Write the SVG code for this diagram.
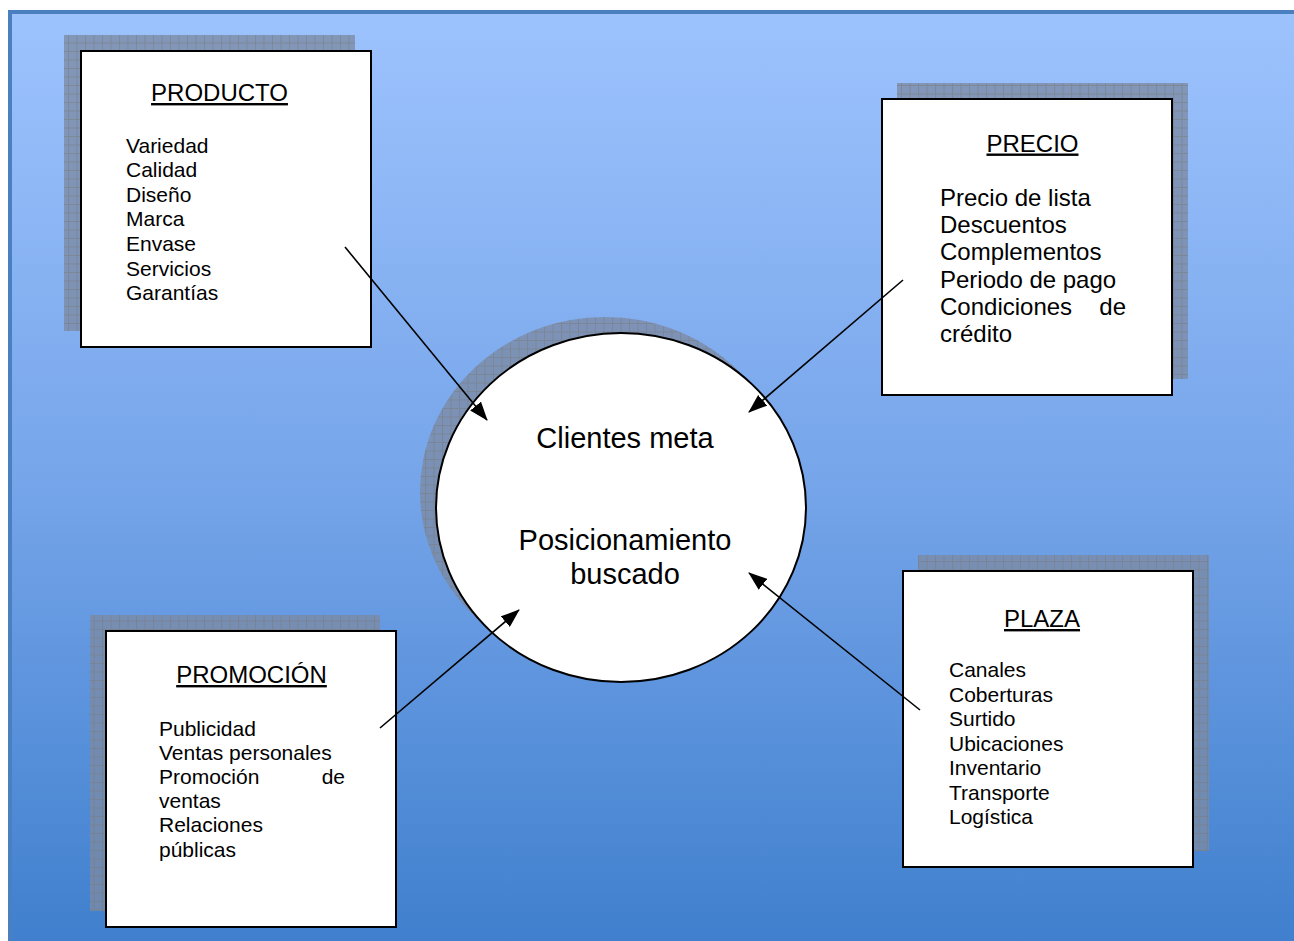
<svg xmlns="http://www.w3.org/2000/svg" width="1294" height="941" viewBox="0 0 1294 941">
<defs>
<linearGradient id="bg" x1="0" y1="0" x2="0" y2="1">
<stop offset="0" stop-color="#9dc3fd"/>
<stop offset="0.5" stop-color="#76a5ea"/>
<stop offset="1" stop-color="#3f7fcd"/>
</linearGradient>
<pattern id="grid" width="8.5" height="8.5" patternUnits="userSpaceOnUse">
<rect width="8.5" height="8.5" fill="#7b8aa6" fill-opacity="0.78"/>
<path d="M0 0.5H8.5M0.5 0V8.5" stroke="#7a7a7a" stroke-width="1" stroke-opacity="0.5"/>
</pattern>
<marker id="ah" viewBox="0 0 19 14" refX="18" refY="7" markerWidth="19" markerHeight="14" markerUnits="userSpaceOnUse" orient="auto">
<path d="M0 0L19 7L0 14Z" fill="#000"/>
</marker>
<style>
.box{fill:#fff;stroke:#000;stroke-width:2}
.sh{fill:url(#grid)}
.t{font-family:"Liberation Sans",Arial,sans-serif;fill:#000}
.title{font-size:24px;text-decoration:underline;text-anchor:middle}
.it{font-size:21px}
.it24{font-size:24px}
.c{font-size:29px;text-anchor:middle}
.con{stroke:#000;stroke-width:1.6;fill:none;marker-end:url(#ah)}
</style>
</defs>
<rect x="0" y="0" width="1294" height="941" fill="#fff"/>
<rect x="10" y="12" width="1290" height="935" fill="url(#bg)" stroke="#4a7fc0" stroke-width="4"/>

<g id="producto">
<rect class="sh" x="64" y="35" width="291" height="296"/>
<rect class="box" x="81" y="51" width="290" height="296"/>
<text class="t title" x="219.5" y="101">PRODUCTO</text>
<text class="t it" x="126" y="152.5">Variedad</text>
<text class="t it" x="126" y="177.1">Calidad</text>
<text class="t it" x="126" y="201.7">Diseño</text>
<text class="t it" x="126" y="226.3">Marca</text>
<text class="t it" x="126" y="250.9">Envase</text>
<text class="t it" x="126" y="275.5">Servicios</text>
<text class="t it" x="126" y="300.1">Garantías</text>
</g>

<g id="precio">
<rect class="sh" x="897" y="83" width="291" height="296"/>
<rect class="box" x="882" y="99" width="290" height="296"/>
<text class="t title" x="1032.5" y="151.5">PRECIO</text>
<text class="t it24" x="940" y="206">Precio de lista</text>
<text class="t it24" x="940" y="233.2">Descuentos</text>
<text class="t it24" x="940" y="260.4">Complementos</text>
<text class="t it24" x="940" y="287.6">Periodo de pago</text>
<text class="t it24" x="940" y="314.8">Condiciones</text>
<text class="t it24" x="1126" y="314.8" text-anchor="end">de</text>
<text class="t it24" x="940" y="342">crédito</text>
</g>

<g id="centro">
<ellipse class="sh" cx="605" cy="492" rx="185" ry="175"/>
<ellipse cx="621" cy="507.5" rx="185" ry="174.5" fill="#fff" stroke="#000" stroke-width="2"/>
<text class="t c" x="625" y="448">Clientes meta</text>
<text class="t c" x="625" y="549.5">Posicionamiento</text>
<text class="t c" x="625" y="583.5">buscado</text>
</g>

<g id="promocion">
<rect class="sh" x="90" y="615" width="290" height="296"/>
<rect class="box" x="106" y="631" width="290" height="296"/>
<text class="t title" x="251.5" y="683">PROMOCIÓN</text>
<text class="t it" x="159" y="736">Publicidad</text>
<text class="t it" x="159" y="760.1">Ventas personales</text>
<text class="t it" x="159" y="784.2">Promoción</text>
<text class="t it" x="345" y="784.2" text-anchor="end">de</text>
<text class="t it" x="159" y="808.3">ventas</text>
<text class="t it" x="159" y="832.4">Relaciones</text>
<text class="t it" x="159" y="856.5">públicas</text>
</g>

<g id="plaza">
<rect class="sh" x="918" y="555" width="291" height="296"/>
<rect class="box" x="903" y="571" width="290" height="296"/>
<text class="t title" x="1042" y="627">PLAZA</text>
<text class="t it" x="949" y="677">Canales</text>
<text class="t it" x="949" y="701.5">Coberturas</text>
<text class="t it" x="949" y="726">Surtido</text>
<text class="t it" x="949" y="750.5">Ubicaciones</text>
<text class="t it" x="949" y="775">Inventario</text>
<text class="t it" x="949" y="799.5">Transporte</text>
<text class="t it" x="949" y="824">Logística</text>
</g>

<g id="connectors">
<line class="con" x1="345" y1="247" x2="487" y2="420"/>
<line class="con" x1="903" y1="280" x2="749" y2="412"/>
<line class="con" x1="380" y1="728" x2="519" y2="610"/>
<line class="con" x1="920" y1="710" x2="749" y2="573"/>
</g>
</svg>
